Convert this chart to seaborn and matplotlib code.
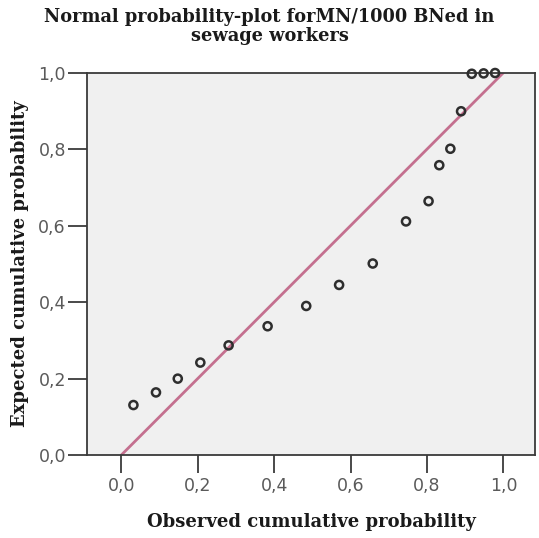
import matplotlib as mpl
import matplotlib.pyplot as plt
import numpy as np
import pandas as pd
import seaborn as sns

# Data
OBSERVED = [0.032, 0.091, 0.148, 0.207, 0.281, 0.383, 0.484, 0.570, 0.658,
            0.745, 0.804, 0.832, 0.861, 0.889, 0.917, 0.948, 0.978]
EXPECTED = [0.131, 0.164, 0.200, 0.242, 0.287, 0.337, 0.390, 0.445, 0.501,
            0.611, 0.664, 0.758, 0.801, 0.899, 0.997, 0.998, 0.999]
REF_LINE_X = [0.0, 1.0]
REF_LINE_Y = [0.0, 1.0]
TICKS = [0.0, 0.2, 0.4, 0.6, 0.8, 1.0]
TICK_LABELS = ["0,0", "0,2", "0,4", "0,6", "0,8", "1,0"]

TITLE = "Normal probability-plot forMN/1000 BNed in\nsewage workers"
XLABEL = "Observed cumulative probability"
YLABEL = "Expected cumulative probability"

sns.set_style("ticks")
plt.rcParams["font.family"] = ["DejaVu Sans"]

fig = plt.figure(figsize=(5.39, 5.38), dpi=100)
ax = fig.add_axes([0.161, 0.154, 0.832, 0.711])

df = pd.DataFrame({"observed": OBSERVED, "expected": EXPECTED})
line = pd.DataFrame({"x": REF_LINE_X, "y": REF_LINE_Y})

ax.set_facecolor("#f0f0f0")
sns.lineplot(data=line, x="x", y="y", color="#c4708f", linewidth=2.0, ax=ax, zorder=2)
sns.scatterplot(
    data=df,
    x="observed",
    y="expected",
    marker="o",
    s=34,
    facecolor="none",
    edgecolor="#2e2e2e",
    linewidth=1.8,
    ax=ax,
    zorder=3,
    clip_on=False,
)

ax.set_xlim(-0.09, 1.083)
ax.set_ylim(0.0, 1.0)
ax.set_xticks(TICKS)
ax.set_xticklabels(TICK_LABELS)
ax.set_yticks(TICKS)
ax.set_yticklabels(TICK_LABELS)
ax.tick_params(axis="both", direction="out", length=14, width=1.3, color="#3a3a3a",
               labelsize=12.5, labelcolor="#5a5a5a", pad=1)
ax.tick_params(axis="x", length=13, pad=3)

for side in ["left", "right", "top", "bottom"]:
    ax.spines[side].set_visible(True)
    ax.spines[side].set_color("#3a3a3a")
    ax.spines[side].set_linewidth(1.3)

serif = {"family": "DejaVu Serif", "weight": "bold", "color": "#1a1a1a"}
ax.set_xlabel(XLABEL, fontdict=dict(serif, size=13), labelpad=13)
ax.set_ylabel(YLABEL, fontdict=dict(serif, size=13), labelpad=7)
fig.text(0.5, 0.985, TITLE, ha="center", va="top", linespacing=1.05,
         fontdict=dict(serif, size=12.8))

fig.savefig("out.png", dpi=100)
